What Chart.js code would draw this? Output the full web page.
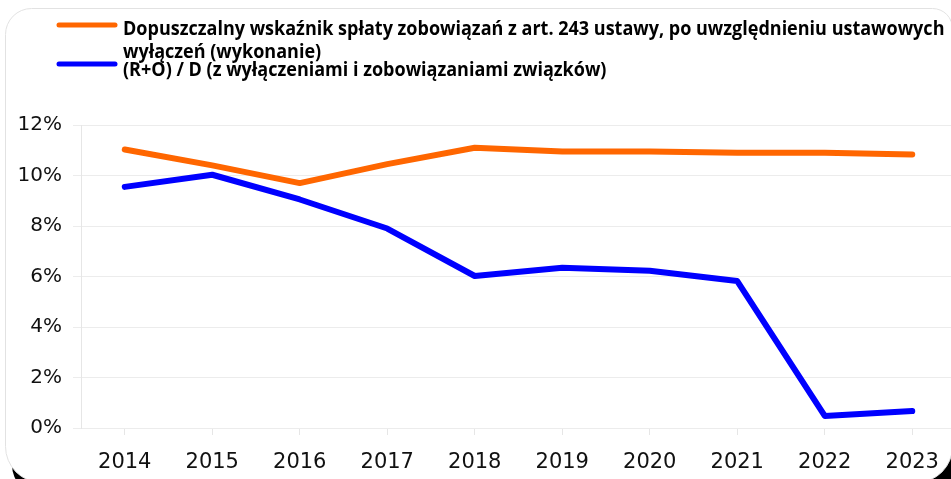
<!DOCTYPE html>
<html>
<head>
<meta charset="utf-8">
<script src="https://cdn.jsdelivr.net/npm/chart.js@4.4.0/dist/chart.umd.min.js"></script>
<style>
  html, body { margin: 0; padding: 0; overflow: hidden; background: #fff; }
  #wrap { width: 960px; height: 479px; }
</style>
</head>
<body>
<div id="wrap"><canvas id="chart" width="960" height="479"></canvas></div>
<script>
var years = ["2014", "2015", "2016", "2017", "2018", "2019", "2020", "2021", "2022", "2023"];
var limitValues = [11.03, 10.4, 9.7, 10.45, 11.1, 10.95, 10.95, 10.9, 10.9, 10.83];
var ratioValues = [9.55, 10.03, 9.05, 7.9, 6.02, 6.35, 6.23, 5.82, 0.48, 0.67];
var seriesNames = [
  "Dopuszczalny wskaźnik spłaty zobowiązań z art. 243 ustawy, po uwzględnieniu ustawowych wyłączeń (wykonanie)",
  "(R+O) / D (z wyłączeniami i zobowiązaniami związków)"
];
var seriesColors = ["#ff6600", "#0000ff"];

// rounded frame with the dark shadow behind it
var framePlugin = {
  id: "frame",
  beforeDraw: function (chart) {
    var ctx = chart.ctx;
    ctx.save();
    ctx.fillStyle = "#000";
    ctx.beginPath();
    ctx.roundRect(12, 16, 953, 479, 30);
    ctx.fill();
    ctx.fillStyle = "#fff";
    ctx.strokeStyle = "#e2e2e2";
    ctx.lineWidth = 1;
    ctx.beginPath();
    ctx.roundRect(5.5, 8.5, 947, 474, [26, 20, 36, 36]);
    ctx.fill();
    ctx.stroke();
    ctx.restore();
  }
};

// legend drawn by hand, because the first entry wraps onto two lines
var legendPlugin = {
  id: "wrapLegend",
  afterDraw: function (chart) {
    var ctx = chart.ctx;
    ctx.save();
    var textX = 123;
    var firstLine = "Dopuszczalny wskaźnik spłaty zobowiązań z art. 243 ustawy, po uwzględnieniu ustawowych";
    ctx.font = "bold 16px 'Open Sans'";
    var size = 16 * 822 / ctx.measureText(firstLine).width;
    ctx.font = "bold " + size.toFixed(2) + "px 'Open Sans'";
    ctx.fillStyle = "#000";
    ctx.textBaseline = "alphabetic";

    function wrap(text, maxW) {
      var words = text.split(" "), lines = [], cur = "";
      words.forEach(function (w) {
        var t = cur ? cur + " " + w : w;
        if (ctx.measureText(t).width > maxW && cur) { lines.push(cur); cur = w; } else { cur = t; }
      });
      lines.push(cur);
      return lines;
    }

    var entries = [
      { lines: wrap(seriesNames[0], 826), baselines: [35, 58], lineY: 25, color: seriesColors[0] },
      { lines: wrap(seriesNames[1], 826), baselines: [76], lineY: 64, color: seriesColors[1] }
    ];
    entries.forEach(function (e) {
      ctx.strokeStyle = e.color;
      ctx.lineWidth = 5;
      ctx.lineCap = "round";
      ctx.beginPath();
      ctx.moveTo(59, e.lineY);
      ctx.lineTo(115, e.lineY);
      ctx.stroke();
      e.lines.forEach(function (l, i) {
        var y = e.baselines[i] !== undefined ? e.baselines[i] : e.baselines[0] + 20 * i;
        // glyphs in the reference are a bit taller than the font's natural shape
        ctx.save();
        ctx.translate(textX, y);
        ctx.scale(1, 1.1);
        ctx.fillText(l, 0, 0);
        ctx.restore();
      });
    });
    ctx.restore();
  }
};

var ctx = document.getElementById("chart");
var chart = new Chart(ctx, {
  type: "line",
  data: {
    labels: years,
    datasets: [{
      label: seriesNames[0],
      data: limitValues,
      borderColor: seriesColors[0],
      backgroundColor: seriesColors[0],
      borderWidth: 6,
      borderCapStyle: "round",
      borderJoinStyle: "round",
      pointRadius: 0,
      tension: 0
    }, {
      label: seriesNames[1],
      data: ratioValues,
      borderColor: seriesColors[1],
      backgroundColor: seriesColors[1],
      borderWidth: 6,
      borderCapStyle: "round",
      borderJoinStyle: "round",
      pointRadius: 0,
      tension: 0
    }]
  },
  options: {
    responsive: false,
    animation: false,
    devicePixelRatio: 1,
    layout: { padding: { top: 125, left: 0, right: 4, bottom: 5 } },
    plugins: {
      legend: { display: false },
      tooltip: { enabled: false }
    },
    scales: {
      x: {
        offset: true,
        grid: { display: true, drawOnChartArea: false, drawTicks: true, tickLength: 7, color: "#e6e6e6" },
        border: { display: true, color: "#ececec" },
        ticks: { color: "#111", font: { family: "DejaVu Sans", size: 21 }, padding: 15, maxRotation: 0 },
        afterFit: function (scale) { scale.height = 46; }
      },
      y: {
        min: 0,
        max: 12,
        grid: { color: "#ececec", tickLength: 8 },
        border: { display: true, color: "#e6e6e6" },
        ticks: {
          stepSize: 2,
          color: "#111",
          font: { family: "DejaVu Sans", size: 20 },
          padding: 11,
          callback: function (v) { return v + "%"; }
        },
        afterFit: function (scale) { scale.width = 81; }
      }
    }
  },
  plugins: [framePlugin, legendPlugin]
});
</script>
</body>
</html>
